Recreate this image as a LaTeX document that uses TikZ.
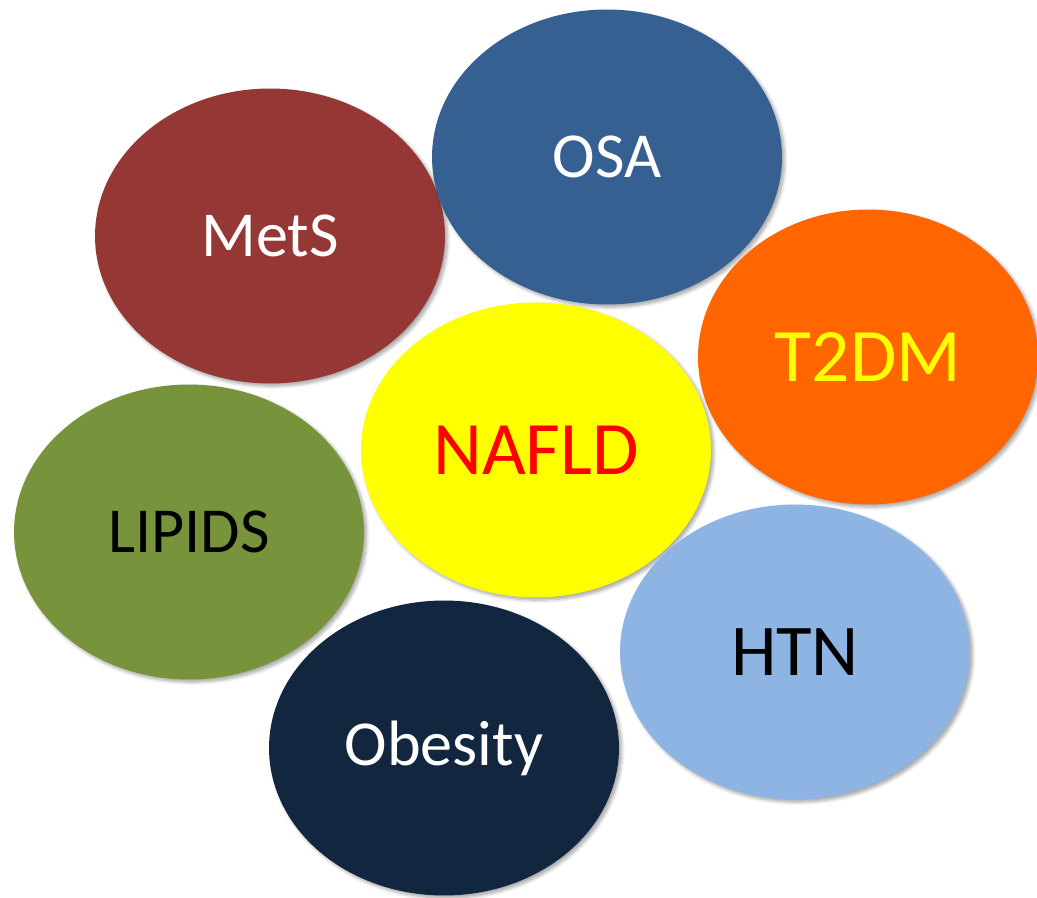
\documentclass[tikz,border=0pt]{standalone}
\usepackage{fontspec}
\setmainfont{Carlito}
\usepackage{tikz}
\usetikzlibrary{shapes.geometric, shadows.blur}

\definecolor{metsred}{HTML}{953735}
\definecolor{osablue}{HTML}{376092}
\definecolor{dmorange}{HTML}{FF6600}
\definecolor{lipidgreen}{HTML}{77933C}
\definecolor{htnblue}{HTML}{8EB4E3}
\definecolor{obenavy}{HTML}{12263F}
\definecolor{pureyellow}{HTML}{FFFF00}
\definecolor{purered}{HTML}{FF0000}

\begin{document}
\begin{tikzpicture}[
      x=0.02cm, y=-0.02cm,
      blob/.style={ellipse, minimum width=7cm, minimum height=5.9cm, inner sep=0pt,
        blur shadow={shadow xshift=1.5pt, shadow yshift=-1.5pt, shadow blur steps=6, shadow opacity=35},
        font=\fontsize{36.5}{40}\selectfont},
      bigtext/.style={font=\fontsize{43}{48}\selectfont}
    ]
    \useasboundingbox (0,0) rectangle (1037,898);

    \node[blob, fill=metsred, text=white] (mets) at (270,236) {MetS};
    \node[blob, fill=osablue, text=white] (osa) at (607,157) {OSA};
    \node[blob, bigtext, fill=dmorange, text=pureyellow, minimum width=6.8cm] (t2dm) at (868,357) {T2DM};
    \node[blob, bigtext, fill=pureyellow, text=purered] (nafld) at (536,450) {NAFLD};
    \node[blob, fill=lipidgreen, text=black] (lipids) at (189,532) {LIPIDS};
    \node[blob, fill=htnblue, text=black, font=\fontsize{41.5}{46}\selectfont] (htn) at (795,652) {HTN};
    \node[blob, fill=obenavy, text=white] (obesity) at (444,748) {Obesity};

\end{tikzpicture}
\end{document}
